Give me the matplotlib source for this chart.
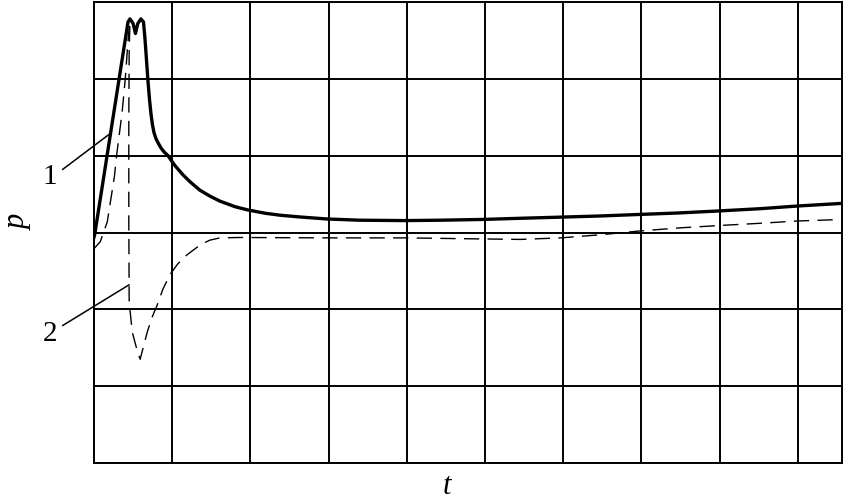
import numpy as np
import matplotlib
matplotlib.use("Agg")
import matplotlib.pyplot as plt

plt.rcParams['font.family'] = ['Liberation Serif', 'DejaVu Serif']

# curve 1 (solid) : t, p in grid units
t1 = [0, 0.01, 0.435, 0.46, 0.50, 0.53, 0.56, 0.60, 0.633,
      0.652, 0.671, 0.691, 0.710, 0.729, 0.748, 0.767, 0.793, 0.818, 0.857, 0.895,
      0.946, 1.036, 1.138, 1.228, 1.355, 1.483, 1.611, 1.803, 1.969, 2.187, 2.379,
      2.634, 2.98, 3.40, 3.98, 4.43, 4.97, 5.45, 5.97, 6.47, 6.98, 7.49, 7.98, 8.52,
      9.00, 9.58]
p1 = [-0.06, -0.02, 2.74, 2.78, 2.72, 2.59, 2.72, 2.78, 2.74,
      2.52, 2.25, 1.96, 1.73, 1.54, 1.40, 1.30, 1.22, 1.17, 1.10, 1.05,
      1.00, 0.87, 0.75, 0.66, 0.55, 0.473, 0.408, 0.336, 0.293, 0.251, 0.225,
      0.202, 0.176, 0.16, 0.155, 0.16, 0.17, 0.185, 0.20, 0.215, 0.235, 0.255, 0.28, 0.31,
      0.345, 0.38]

# curve 2 (dashed)
t2 = [0, 0.08, 0.17, 0.21, 0.26, 0.29, 0.36, 0.40, 0.44, 0.46, 0.45, 0.445, 0.445,
      0.45, 0.49, 0.54, 0.59, 0.68, 0.74, 0.81, 0.88, 0.97, 1.07, 1.19, 1.36, 1.48,
      1.61, 1.87, 2.98, 3.98, 4.68, 5.45, 5.97, 6.47, 6.98, 7.49, 7.98, 8.52, 9.00,
      9.58]
p2 = [-0.21, -0.12, 0.14, 0.40, 0.72, 1.01, 1.57, 2.00, 2.57, 2.74, 2.35, 1.44, 0.14,
      -0.91, -1.30, -1.49, -1.65, -1.30, -1.11, -0.94, -0.74, -0.55, -0.41, -0.29, -0.16, -0.10,
      -0.07, -0.065, -0.07, -0.07, -0.08, -0.09, -0.07, -0.03, 0.02, 0.06, 0.09, 0.12, 0.15,
      0.17]

W, H = 843, 500
fig = plt.figure(figsize=(W / 100, H / 100), dpi=100)
ax = fig.add_axes([94 / W, 37 / H, 748 / W, 461 / H])

ax.set_xlim(0, 748 / 78.2)
ax.set_ylim(-3, 3)
ax.set_xticks(np.arange(0, 10))
ax.set_yticks(np.arange(-3, 4))
ax.grid(True, color='black', lw=1.4)
ax.tick_params(length=0, labelbottom=False, labelleft=False)
for s in ax.spines.values():
    s.set_linewidth(1.4)

ax.plot(t1, p1, color='black', lw=2.4, solid_joinstyle='round')
ax.plot(t2, p2, color='black', lw=1.0, dashes=(11, 6))

ax.annotate('1', xy=(0.21, 1.29), xytext=(-0.56, 0.72), fontsize=21,
            ha='center', va='center', annotation_clip=False,
            arrowprops=dict(arrowstyle='-', lw=1.1, color='black',
                            shrinkA=2, shrinkB=0, relpos=(1, 0.65)))
ax.annotate('2', xy=(0.45, -0.68), xytext=(-0.56, -1.32), fontsize=21,
            ha='center', va='center', annotation_clip=False,
            arrowprops=dict(arrowstyle='-', lw=1.1, color='black',
                            shrinkA=2, shrinkB=0, relpos=(1, 0.7)))

fig.text(18 / W, 1 - 222 / H, 'p', fontsize=22, style='italic',
         rotation=90, ha='center', va='center')
fig.text(447 / W, 1 - 487 / H, 't', fontsize=22, style='italic',
         ha='center', va='center')

fig.savefig('out.png', dpi=100, facecolor='white')
